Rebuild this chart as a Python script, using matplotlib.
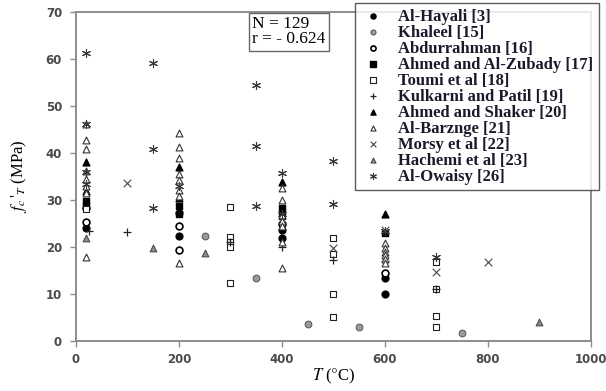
import matplotlib
matplotlib.use("Agg")
import matplotlib.pyplot as plt

plt.rcParams["mathtext.fontset"] = "stix"

# temperature (C) and residual strength (MPa) per study
hayali_t = [20, 200, 200, 400, 400, 600, 600]
hayali_f = [24.0, 22.3, 27.2, 23.6, 22.0, 13.4, 10.0]

khaleel_t = [250, 350, 450, 550, 750]
khaleel_f = [22.3, 13.4, 3.7, 3.0, 1.7]

abdur_t = [20, 20, 200, 200, 400, 600]
abdur_f = [25.3, 28.3, 24.5, 19.4, 25.0, 14.5]

zubady_t = [20, 20, 200, 200, 400, 400, 600]
zubady_f = [29.8, 29.0, 28.7, 27.0, 28.3, 26.5, 23.0]

toumi_t = [20, 300, 300, 300, 300, 300, 500, 500, 500, 500, 700, 700, 700, 700]
toumi_f = [28.0, 28.5, 22.1, 21.1, 20.0, 12.3, 21.9, 18.5, 10.0, 5.1, 16.8, 11.1, 5.3, 3.0]

kulkarni_t = [25, 100, 300, 400, 500, 600, 700]
kulkarni_f = [23.4, 23.2, 21.1, 20.0, 17.2, 17.0, 11.1]

shaker_t = [20, 20, 200, 200, 400, 400, 600]
shaker_f = [38.0, 32.0, 37.0, 30.5, 33.8, 28.0, 27.0]

barz_t = [20, 20, 20, 20, 20, 20, 20, 20,
          200, 200, 200, 200, 200, 200, 200, 200,
          400, 400, 400, 400, 400, 400, 400,
          600, 600, 600, 600, 600, 600]
barz_f = [46.2, 42.8, 40.9, 36.2, 34.5, 33.0, 31.5, 17.9,
          44.2, 41.3, 38.9, 35.5, 34.3, 32.1, 30.8, 16.5,
          32.5, 30.0, 26.8, 25.5, 24.5, 21.0, 15.5,
          20.8, 19.8, 19.0, 18.2, 17.5, 16.6]

morsy_t = [100, 500, 600, 700, 800]
morsy_f = [33.6, 19.8, 23.6, 14.7, 16.8]

hachemi_t = [20, 150, 250, 900]
hachemi_f = [22.0, 19.8, 18.7, 4.0]

owaisy_t = [20, 20, 20, 20, 150, 150, 150, 200, 350, 350, 350, 400, 400, 500, 500, 600, 700]
owaisy_f = [61.3, 46.2, 36.0, 33.5, 59.2, 40.9, 28.3, 33.0, 54.5, 41.5, 28.7, 35.7, 27.0, 38.3, 29.1, 23.5, 17.9]

fig = plt.figure(figsize=(6.06, 3.91), dpi=100)
ax = fig.add_axes([0.1254, 0.128, 0.8498, 0.841])

ms = 24
ax.scatter(hayali_t, hayali_f, s=ms, marker="o", color="black", label="Al-Hayali [3]", zorder=3)
ax.scatter(khaleel_t, khaleel_f, s=ms, marker="o", facecolor="#9a9a9a", edgecolor="#555555",
           linewidths=0.7, label="Khaleel [15]", zorder=3)
ax.scatter(abdur_t, abdur_f, s=ms, marker="o", facecolor="white", edgecolor="black",
           linewidths=1.2, label="Abdurrahman [16]", zorder=3)
ax.scatter(zubady_t, zubady_f, s=ms, marker="s", color="black", label="Ahmed and Al-Zubady [17]", zorder=3)
ax.scatter(toumi_t, toumi_f, s=ms, marker="s", facecolor="white", edgecolor="#222222",
           linewidths=0.8, label="Toumi et al [18]", zorder=3)
ax.scatter(kulkarni_t, kulkarni_f, s=32, marker="+", color="#222222", linewidths=0.9,
           label="Kulkarni and Patil [19]", zorder=3)
ax.scatter(shaker_t, shaker_f, s=ms, marker="^", color="black", label="Ahmed and Shaker [20]", zorder=3)
ax.scatter(barz_t, barz_f, s=ms, marker="^", facecolor="white", edgecolor="#333333",
           linewidths=0.8, label="Al-Barznge [21]", zorder=3)
ax.scatter(morsy_t, morsy_f, s=30, marker="x", color="#444444", linewidths=0.8,
           label="Morsy et al [22]", zorder=3)
ax.scatter(hachemi_t, hachemi_f, s=ms, marker="^", facecolor="#8a8a8a", edgecolor="#444444",
           linewidths=0.7, label="Hachemi et al [23]", zorder=3)
ax.scatter(owaisy_t, owaisy_f, s=34, marker=(6, 2, 0), color="#3a3a3a", linewidths=0.8,
           label="Al-Owaisy [26]", zorder=3)

ax.set_xlim(0, 1000)
ax.set_ylim(0, 70)
ax.set_xticks(range(0, 1001, 200))
ax.set_yticks(range(0, 71, 10))

for sp in ax.spines.values():
    sp.set_color("#8c8c8c")
    sp.set_linewidth(1.4)
ax.tick_params(direction="out", length=4, width=1, color="#8c8c8c",
               labelsize=8.5, labelcolor="#4a4a4a", pad=6)
for lab in ax.get_xticklabels() + ax.get_yticklabels():
    lab.set_fontweight("bold")
ax.tick_params(axis="x", pad=5)

ax.set_xlabel(r"$T$ ($\degree$C)", fontsize=12, family="Liberation Serif", labelpad=0)
ax.set_ylabel(r"$f_c\,'_T$ (MPa)", fontsize=12, family="Liberation Serif", labelpad=12)

fig.text(0.416, 0.958, "N = 129\nr = - 0.624", fontsize=12.5, family="Liberation Serif",
         va="top", ha="left", linespacing=0.9,
         bbox=dict(boxstyle="square,pad=0.2", facecolor="white", edgecolor="#666666", linewidth=1))

leg = fig.legend(loc="upper right", bbox_to_anchor=(0.988, 0.993), frameon=True, fancybox=False,
                 prop={"family": "Liberation Serif", "weight": "bold", "size": 12},
                 labelspacing=0.0, handletextpad=0.8, borderpad=0.35, handlelength=1.4,
                 markerscale=0.75, borderaxespad=0)
leg.get_frame().set_edgecolor("#333333")
leg.get_frame().set_linewidth(1.0)
for t in leg.get_texts():
    t.set_color("#1a1a2a")

fig.savefig("out.png", dpi=100)
